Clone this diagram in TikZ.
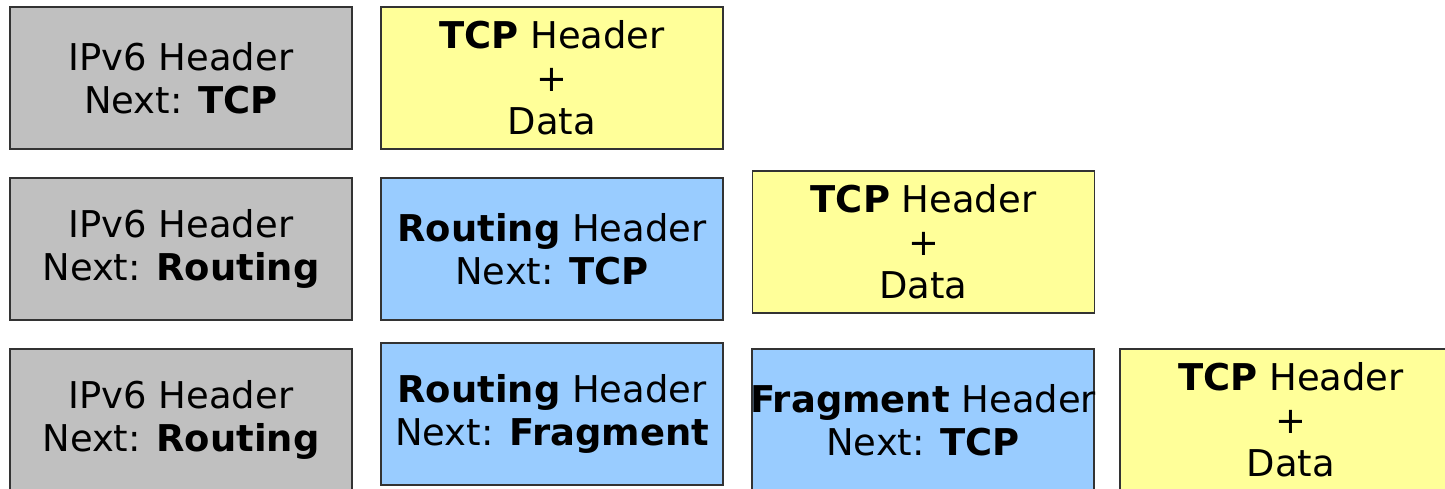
\documentclass[tikz,border=0pt]{standalone}
\usepackage{fontspec}
\setmainfont{DejaVu Sans}
\usetikzlibrary{positioning}

\definecolor{hdrgray}{HTML}{C0C0C0}
\definecolor{tcpyellow}{HTML}{FFFF99}
\definecolor{extblue}{HTML}{99CCFF}

\tikzset{
  hdrbox/.style={draw=black!80, line width=0.4pt, rectangle, align=center,
    minimum width=3.42cm, minimum height=1.42cm, inner xsep=-1pt, inner ysep=0pt,
    font=\fontsize{10.5}{12.2}\selectfont},
  ipv6box/.style={hdrbox, fill=hdrgray},
  extbox/.style={hdrbox, fill=extblue},
  tcpbox/.style={hdrbox, fill=tcpyellow}
}

\begin{document}
\begin{tikzpicture}
  \clip (0,0) rectangle (14.45,-4.89);
  % row 1: no extension header
  \node[ipv6box] (ipA) at (1.81,-0.78) {IPv6 Header\\Next: \textbf{TCP}};
  \node[tcpbox] (tcpA) at (5.52,-0.78) {\textbf{TCP} Header\\+\\Data};
  % row 2: routing header
  \node[ipv6box] (ipB) at (1.81,-2.49) {IPv6 Header\\Next: \textbf{Routing}};
  \node[extbox] (rtB) at (5.52,-2.49) {\textbf{Routing} Header\\Next: \textbf{TCP}};
  \node[tcpbox] (tcpB) at (9.235,-2.42) {\textbf{TCP} Header\\+\\Data};
  % row 3: routing + fragment header
  \node[ipv6box] (ipC) at (1.81,-4.20) {IPv6 Header\\Next: \textbf{Routing}};
  \node[extbox] (rtC) at (5.52,-4.14) {\textbf{Routing} Header\\Next: \textbf{Fragment}};
  \node[extbox] (frC) at (9.23,-4.20) {\textbf{Fragment} Header\\Next: \textbf{TCP}};
  \node[tcpbox] (tcpC) at (12.91,-4.20) {\textbf{TCP} Header\\+\\Data};
\end{tikzpicture}
\end{document}
